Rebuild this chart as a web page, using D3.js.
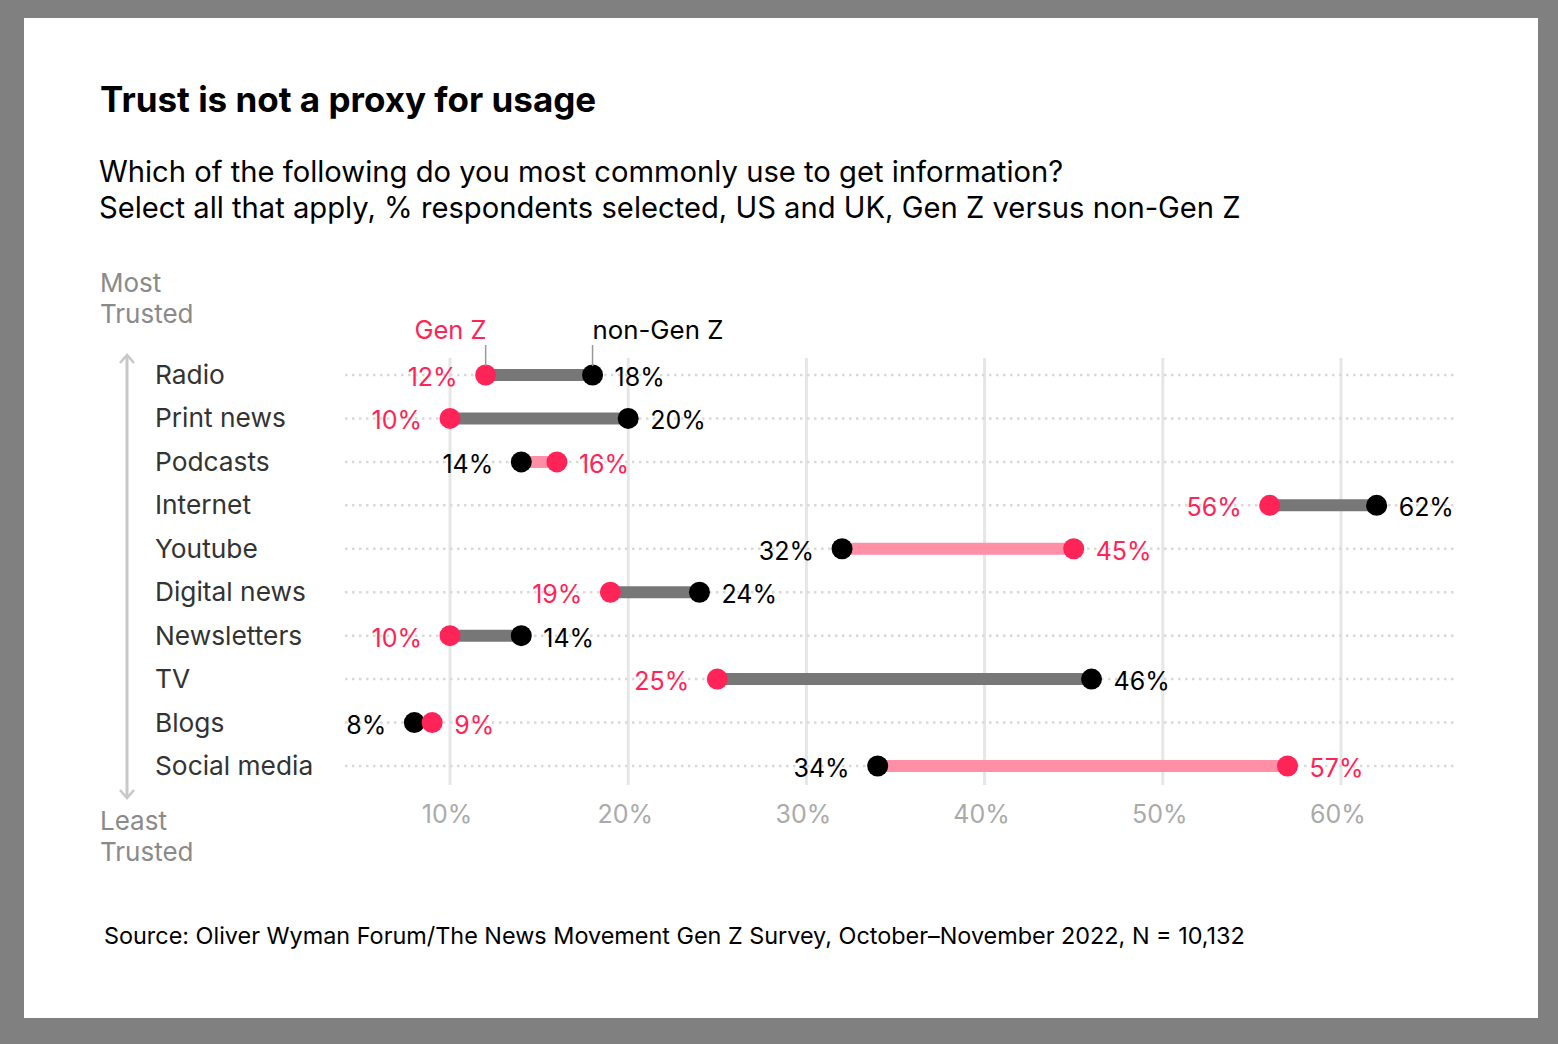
<!DOCTYPE html>
<html lang="en">
<head>
<meta charset="UTF-8">
<title>Trust is not a proxy for usage</title>
<script src="https://cdn.jsdelivr.net/npm/d3@7"></script>
<style>
  html, body { margin: 0; padding: 0; background: #808080; }
  body { width: 1558px; height: 1044px; position: relative; font-family: Inter, "Noto Sans", sans-serif; }
  #card { position: absolute; left: 24px; top: 18px; width: 1514px; height: 1000px; background: #fff; }
  svg { position: absolute; left: 0; top: 0; }
</style>
</head>
<body>
<div id="card"></div>
<svg id="chart" width="1558" height="1044"></svg>
<script>
// categories ordered from most trusted to least trusted
const categories = ["Radio", "Print news", "Podcasts", "Internet", "Youtube", "Digital news", "Newsletters", "TV", "Blogs", "Social media"];
const genZ =    [12, 10, 16, 56, 45, 19, 10, 25, 9, 57];
const nonGenZ = [18, 20, 14, 62, 32, 24, 14, 46, 8, 34];
const xTicks = [10, 20, 30, 40, 50, 60];

const RED = "#ff2457", PINK = "#ff8ea7", GREY = "#777", BLACK = "#000";

const svg = d3.select("#chart");

// scales
const x = d3.scaleLinear().domain([10, 60]).range([450, 1341]);
const y = d3.scalePoint().domain(categories).range([375, 766]);

// title + subtitle
svg.append("text").attr("x", 100).attr("y", 112)
  .attr("font-size", 35).attr("font-weight", 700).attr("fill", "#000")
  .text("Trust is not a proxy for usage");
const sub = ["Which of the following do you most commonly use to get information?",
             "Select all that apply, % respondents selected, US and UK, Gen Z versus non-Gen Z"];
sub.forEach((s, i) => svg.append("text").attr("x", 99).attr("y", 182 + i * 36)
  .attr("font-size", 29.2).attr("fill", "#000").text(s));

// trust axis labels
const grey = "#8a8a8a";
[["Most", 292], ["Trusted", 323], ["Least", 830], ["Trusted", 861]].forEach(([t, yy]) =>
  svg.append("text").attr("x", 100).attr("y", yy).attr("font-size", 26).attr("fill", grey).text(t));
svg.append("line").attr("x1", 127).attr("x2", 127).attr("y1", 356).attr("y2", 797)
  .attr("stroke", "#c8c8c8").attr("stroke-width", 3);
svg.append("path").attr("d", "M120,363 L127,355 L134,363").attr("fill", "none")
  .attr("stroke", "#c8c8c8").attr("stroke-width", 2.5);
svg.append("path").attr("d", "M120,790 L127,798 L134,790").attr("fill", "none")
  .attr("stroke", "#c8c8c8").attr("stroke-width", 2.5);

// vertical gridlines
svg.append("g").selectAll("line").data(xTicks).join("line")
  .attr("x1", d => x(d)).attr("x2", d => x(d)).attr("y1", 358).attr("y2", 785)
  .attr("stroke", "#e6e6e6").attr("stroke-width", 3);

// x axis labels
svg.append("g").selectAll("text").data(xTicks).join("text")
  .attr("x", d => x(d) - 3).attr("y", 823).attr("text-anchor", "middle")
  .attr("font-size", 25).attr("fill", "#aaa").text(d => d + "%");

// row dotted lines
svg.append("g").selectAll("line").data(categories).join("line")
  .attr("x1", 345).attr("x2", 1458).attr("y1", d => y(d)).attr("y2", d => y(d))
  .attr("stroke", "#d9d9d9").attr("stroke-width", 2.5).attr("stroke-dasharray", "2.5,4.5");

// category labels
svg.append("g").selectAll("text").data(categories).join("text")
  .attr("x", 155).attr("y", d => y(d) + 9).attr("font-size", 26.3).attr("fill", "#333").text(d => d);

const rows = categories.map((c, i) => ({ c, g: genZ[i], n: nonGenZ[i] }));

// connecting bars
svg.append("g").selectAll("line").data(rows).join("line")
  .attr("x1", d => x(d.g)).attr("x2", d => x(d.n)).attr("y1", d => y(d.c)).attr("y2", d => y(d.c))
  .attr("stroke", d => d.g > d.n ? PINK : GREY).attr("stroke-width", 12);

// dots
const dots = svg.append("g");
dots.selectAll(".n").data(rows).join("circle").attr("class", "n")
  .attr("cx", d => x(d.n)).attr("cy", d => y(d.c)).attr("r", 10.5).attr("fill", BLACK);
dots.selectAll(".g").data(rows).join("circle").attr("class", "g")
  .attr("cx", d => x(d.g)).attr("cy", d => y(d.c)).attr("r", 10.5).attr("fill", RED);

// value labels
const lab = svg.append("g").attr("font-size", 25);
rows.forEach(d => {
  const gLeft = d.g < d.n;
  lab.append("text").attr("x", x(d.g) + (gLeft ? -28 : 22)).attr("y", y(d.c) + 11)
    .attr("text-anchor", gLeft ? "end" : "start").attr("fill", RED).text(d.g + "%");
  lab.append("text").attr("x", x(d.n) + (gLeft ? 22 : -28)).attr("y", y(d.c) + 11)
    .attr("text-anchor", gLeft ? "start" : "end").attr("fill", BLACK).text(d.n + "%");
});

// legend above first row
const first = rows[0];
svg.append("line").attr("x1", x(first.g)).attr("x2", x(first.g)).attr("y1", 345).attr("y2", 366)
  .attr("stroke", "#999").attr("stroke-width", 1.5);
svg.append("line").attr("x1", x(first.n)).attr("x2", x(first.n)).attr("y1", 345).attr("y2", 366)
  .attr("stroke", "#999").attr("stroke-width", 1.5);
svg.append("text").attr("x", x(first.g) + 1).attr("y", 339).attr("text-anchor", "end")
  .attr("font-size", 25.5).attr("fill", RED).text("Gen Z");
svg.append("text").attr("x", x(first.n)).attr("y", 339).attr("text-anchor", "start")
  .attr("font-size", 25.8).attr("fill", "#000").text("non-Gen Z");

// source
svg.append("text").attr("x", 104).attr("y", 944).attr("font-size", 23.4).attr("fill", "#000")
  .text("Source: Oliver Wyman Forum/The News Movement Gen Z Survey, October\u2013November 2022, N = 10,132");
</script>
</body>
</html>
